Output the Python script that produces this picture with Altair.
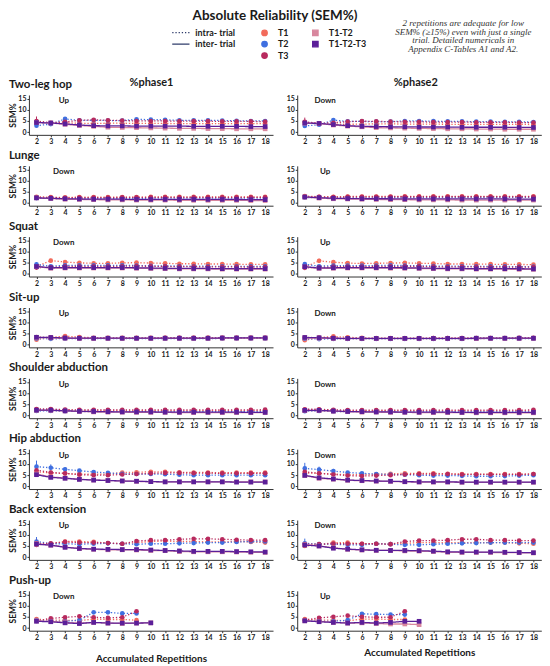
import altair as alt
import pandas as pd

# ---------------- data ----------------
REPS = list(range(2, 19))
PUSH_REPS_INTRA = list(range(2, 10))
PUSH_REPS_INTER = list(range(2, 11))

SERIES = ["T1", "T2", "T3", "T1-T2", "T1-T2-T3"]          # legend fills column by column
COLORS = ["#F26B5B", "#3F6FE0", "#B82A5E", "#D8879E", "#5B1F99"]
SHAPES = ["circle", "circle", "circle", "square", "square"]
WIDTHS = [1.3, 1.3, 1.3, 2.4, 1.7]
TRIALS = ["intra- trial", "inter- trial"]
TRIAL_OF = {"T1": "intra- trial", "T2": "intra- trial", "T3": "intra- trial",
            "T1-T2": "inter- trial", "T1-T2-T3": "inter- trial"}

EXERCISES = ["Two-leg hop", "Lunge", "Squat", "Sit-up", "Shoulder abduction",
             "Hip abduction", "Back extension", "Push-up"]
PHASES = ["%phase1", "%phase2"]
DIR_P1 = ["Up", "Down", "Down", "Up", "Up", "Up", "Up", "Down"]
DIR_P2 = ["Down", "Up", "Up", "Down", "Down", "Down", "Down", "Up"]

TITLE = "Absolute Reliability (SEM%)"
NOTE_LINES = ["2 repetitions are adequate for low",
              "SEM% (\u226515%) even with just a single",
              "trial. Detailed numericals in",
              "Appendix C-Tables A1 and A2."]
X_TITLE = "Accumulated Repetitions"
Y_TITLE = "SEM%"

hop_p1 = {
    "T1": [4.5, 4.0, 4.3, 3.9, 3.9, 4.0, 4.0, 3.9, 3.9, 3.9, 3.8, 3.8, 3.8, 3.8, 3.8, 3.8, 3.8],
    "T2": [2.9, 3.6, 5.9, 5.3, 5.3, 5.2, 5.2, 5.7, 5.6, 5.5, 5.3, 5.3, 5.3, 5.2, 5.1, 5.0, 5.0],
    "T3": [5.0, 4.2, 4.6, 5.3, 5.5, 5.3, 5.2, 5.0, 5.0, 5.0, 4.9, 4.9, 4.9, 4.8, 4.8, 4.8, 4.7],
    "T1-T2": [4.3, 4.1, 3.5, 3.0, 2.6, 2.2, 2.1, 2.0, 1.9, 1.8, 1.7, 1.7, 1.6, 1.6, 1.5, 1.5, 1.5],
    "T1-T2-T3": [4.3, 4.1, 3.7, 3.2, 2.9, 2.8, 2.8, 2.7, 2.7, 2.7, 2.7, 2.6, 2.6, 2.6, 2.6, 2.5, 2.5],
}
hop_p2 = {
    "T1": [4.4, 3.9, 3.6, 3.5, 3.6, 3.7, 3.7, 3.6, 3.6, 3.6, 3.5, 3.5, 3.5, 3.5, 3.5, 3.5, 3.4],
    "T2": [2.8, 3.3, 5.4, 4.8, 4.8, 4.7, 4.7, 5.0, 5.0, 4.9, 4.8, 4.8, 4.7, 4.7, 4.6, 4.6, 4.5],
    "T3": [4.6, 4.0, 4.2, 4.7, 4.9, 4.8, 4.7, 4.6, 4.6, 4.5, 4.5, 4.5, 4.4, 4.4, 4.4, 4.3, 4.3],
    "T1-T2": [4.0, 3.8, 3.2, 2.7, 2.4, 2.0, 1.9, 1.8, 1.7, 1.6, 1.5, 1.5, 1.4, 1.4, 1.3, 1.3, 1.3],
    "T1-T2-T3": [4.1, 3.9, 3.4, 2.9, 2.6, 2.5, 2.4, 2.4, 2.3, 2.3, 2.3, 2.2, 2.2, 2.2, 2.2, 2.1, 2.1],
}
lunge_p1 = {
    "T1": [2.8, 2.6, 2.5, 2.6, 2.6, 2.6, 2.6, 2.6, 2.7, 2.7, 2.7, 2.7, 2.7, 2.7, 2.7, 2.7, 2.7],
    "T2": [2.2, 2.0, 2.0, 2.0, 2.1, 2.1, 2.1, 2.1, 2.1, 2.2, 2.2, 2.2, 2.2, 2.2, 2.2, 2.2, 2.2],
    "T3": [2.5, 2.4, 2.3, 2.4, 2.4, 2.4, 2.5, 2.5, 2.5, 2.5, 2.5, 2.5, 2.5, 2.5, 2.5, 2.5, 2.5],
    "T1-T2": [2.3, 2.0, 1.7, 1.6, 1.5, 1.4, 1.4, 1.3, 1.3, 1.3, 1.2, 1.2, 1.2, 1.2, 1.2, 1.1, 1.1],
    "T1-T2-T3": [2.3, 2.1, 1.9, 1.8, 1.7, 1.7, 1.7, 1.6, 1.6, 1.6, 1.6, 1.6, 1.6, 1.6, 1.6, 1.5, 1.5],
}
lunge_p2 = {
    "T1": [3.1, 2.8, 2.8, 2.9, 2.9, 2.9, 2.9, 3.0, 3.0, 3.0, 3.0, 3.0, 3.0, 3.0, 3.0, 3.0, 3.0],
    "T2": [2.5, 2.3, 2.2, 2.3, 2.3, 2.3, 2.4, 2.4, 2.4, 2.4, 2.5, 2.5, 2.5, 2.5, 2.5, 2.5, 2.5],
    "T3": [2.8, 2.7, 2.6, 2.7, 2.7, 2.7, 2.8, 2.8, 2.8, 2.8, 2.8, 2.8, 2.8, 2.8, 2.8, 2.8, 2.8],
    "T1-T2": [2.6, 2.2, 1.9, 1.8, 1.7, 1.6, 1.5, 1.5, 1.4, 1.4, 1.4, 1.3, 1.3, 1.3, 1.3, 1.3, 1.3],
    "T1-T2-T3": [2.7, 2.4, 2.1, 2.0, 1.9, 1.9, 1.9, 1.8, 1.8, 1.8, 1.8, 1.8, 1.8, 1.8, 1.8, 1.7, 1.7],
}
squat_p1 = {
    "T1": [3.2, 5.9, 5.3, 4.9, 4.7, 4.7, 4.9, 5.0, 4.8, 4.7, 4.5, 4.5, 4.4, 4.4, 4.3, 4.2, 4.2],
    "T2": [4.2, 3.4, 3.8, 3.8, 3.8, 3.8, 3.8, 3.7, 3.6, 3.5, 3.5, 3.4, 3.4, 3.3, 3.3, 3.3, 3.3],
    "T3": [2.8, 2.9, 3.3, 3.3, 3.3, 3.3, 3.4, 3.5, 3.3, 3.3, 3.2, 3.2, 3.1, 3.1, 3.1, 3.0, 3.0],
    "T1-T2": [3.2, 2.5, 2.6, 2.6, 2.6, 2.6, 2.6, 2.5, 2.4, 2.3, 2.2, 2.2, 2.2, 2.1, 2.1, 2.1, 2.1],
    "T1-T2-T3": [3.3, 2.7, 2.8, 2.8, 2.8, 2.8, 2.8, 2.7, 2.6, 2.5, 2.4, 2.4, 2.4, 2.3, 2.3, 2.3, 2.3],
}
squat_p2 = {
    "T1": [3.0, 5.8, 5.2, 4.8, 4.6, 4.7, 4.8, 4.9, 4.7, 4.6, 4.4, 4.4, 4.3, 4.3, 4.2, 4.2, 4.1],
    "T2": [4.3, 3.4, 3.7, 3.7, 3.7, 3.7, 3.8, 3.7, 3.6, 3.5, 3.4, 3.4, 3.3, 3.3, 3.3, 3.2, 3.2],
    "T3": [2.7, 2.8, 3.2, 3.2, 3.2, 3.3, 3.3, 3.4, 3.3, 3.2, 3.1, 3.1, 3.1, 3.0, 3.0, 3.0, 3.0],
    "T1-T2": [3.1, 2.4, 2.5, 2.6, 2.6, 2.6, 2.5, 2.5, 2.4, 2.3, 2.2, 2.2, 2.1, 2.1, 2.1, 2.0, 2.0],
    "T1-T2-T3": [3.2, 2.6, 2.7, 2.8, 2.8, 2.8, 2.8, 2.7, 2.6, 2.5, 2.4, 2.4, 2.3, 2.3, 2.3, 2.3, 2.2],
}
situp_p1 = {
    "T1": [2.2, 3.3, 3.8, 3.4, 3.1, 3.0, 3.0, 3.0, 3.0, 3.0, 3.0, 3.0, 3.0, 3.0, 3.0, 3.0, 3.0],
    "T2": [2.8, 2.6, 2.7, 2.7, 2.7, 2.7, 2.7, 2.7, 2.7, 2.7, 2.7, 2.7, 2.7, 2.8, 2.8, 2.8, 2.8],
    "T3": [3.4, 3.2, 3.0, 2.9, 2.9, 2.9, 2.9, 2.9, 2.9, 3.0, 3.0, 3.0, 3.0, 3.0, 3.0, 3.0, 3.1],
    "T1-T2": [3.1, 3.0, 2.9, 2.8, 2.8, 2.8, 2.8, 2.8, 2.8, 2.8, 2.8, 2.8, 2.8, 2.9, 2.9, 2.9, 2.9],
    "T1-T2-T3": [3.3, 3.2, 3.0, 2.9, 2.9, 2.9, 2.9, 2.9, 2.9, 2.9, 2.9, 2.9, 2.9, 3.0, 3.0, 3.0, 3.0],
}
situp_p2 = {
    "T1": [2.0, 3.2, 3.7, 3.3, 3.0, 2.9, 2.9, 2.9, 2.9, 2.9, 2.9, 2.9, 2.9, 2.9, 2.9, 2.9, 2.9],
    "T2": [2.7, 2.5, 2.6, 2.6, 2.6, 2.6, 2.6, 2.6, 2.6, 2.6, 2.6, 2.6, 2.7, 2.7, 2.7, 2.7, 2.7],
    "T3": [3.3, 3.1, 2.9, 2.8, 2.8, 2.8, 2.8, 2.8, 2.8, 2.9, 2.9, 2.9, 2.9, 2.9, 2.9, 3.0, 3.0],
    "T1-T2": [3.0, 2.9, 2.8, 2.7, 2.7, 2.7, 2.7, 2.7, 2.7, 2.7, 2.7, 2.7, 2.7, 2.8, 2.8, 2.8, 2.8],
    "T1-T2-T3": [3.2, 3.1, 2.9, 2.8, 2.8, 2.8, 2.8, 2.8, 2.8, 2.8, 2.8, 2.8, 2.9, 2.9, 2.9, 2.9, 2.9],
}
shoulder_p1 = {
    "T1": [2.6, 2.6, 2.4, 2.3, 2.3, 2.3, 2.2, 2.2, 2.2, 2.2, 2.2, 2.2, 2.2, 2.2, 2.2, 2.2, 2.2],
    "T2": [2.0, 2.1, 1.9, 1.8, 1.7, 1.7, 1.7, 1.7, 1.7, 1.7, 1.7, 1.7, 1.7, 1.7, 1.7, 1.7, 1.7],
    "T3": [2.9, 2.9, 2.6, 2.5, 2.5, 2.5, 2.5, 2.5, 2.5, 2.5, 2.5, 2.5, 2.5, 2.5, 2.5, 2.5, 2.6],
    "T1-T2": [2.3, 2.3, 2.0, 1.8, 1.6, 1.5, 1.5, 1.4, 1.4, 1.4, 1.3, 1.3, 1.3, 1.3, 1.3, 1.3, 1.3],
    "T1-T2-T3": [2.4, 2.4, 2.1, 1.9, 1.8, 1.7, 1.6, 1.6, 1.6, 1.5, 1.5, 1.5, 1.5, 1.5, 1.5, 1.4, 1.4],
}
shoulder_p2 = {
    "T1": [2.5, 2.5, 2.3, 2.2, 2.2, 2.2, 2.2, 2.2, 2.1, 2.1, 2.1, 2.1, 2.1, 2.1, 2.1, 2.1, 2.1],
    "T2": [1.9, 2.0, 1.8, 1.7, 1.7, 1.6, 1.6, 1.6, 1.6, 1.6, 1.6, 1.6, 1.6, 1.6, 1.6, 1.6, 1.6],
    "T3": [2.8, 2.8, 2.5, 2.4, 2.4, 2.4, 2.4, 2.4, 2.4, 2.4, 2.4, 2.4, 2.4, 2.4, 2.4, 2.4, 2.5],
    "T1-T2": [2.2, 2.2, 1.9, 1.7, 1.5, 1.5, 1.4, 1.4, 1.3, 1.3, 1.3, 1.3, 1.2, 1.2, 1.2, 1.2, 1.2],
    "T1-T2-T3": [2.3, 2.3, 2.0, 1.8, 1.7, 1.6, 1.6, 1.5, 1.5, 1.5, 1.5, 1.4, 1.4, 1.4, 1.4, 1.4, 1.4],
}
hip_p1 = {
    "T1": [6.5, 6.0, 5.7, 5.5, 5.5, 5.5, 6.2, 6.3, 6.5, 6.5, 6.3, 6.2, 6.2, 6.1, 6.1, 6.1, 6.1],
    "T2": [8.8, 8.3, 7.6, 7.0, 6.4, 6.0, 5.6, 5.5, 5.5, 5.4, 5.2, 5.0, 5.0, 5.0, 5.0, 5.0, 5.0],
    "T3": [7.2, 6.2, 5.8, 5.2, 5.0, 5.0, 5.3, 5.5, 5.8, 6.0, 6.0, 5.9, 5.9, 5.8, 5.8, 5.8, 5.8],
    "T1-T2": [5.5, 4.2, 3.7, 3.2, 2.8, 2.6, 2.4, 2.2, 2.1, 2.0, 2.0, 2.0, 2.0, 2.0, 2.0, 2.0, 2.0],
    "T1-T2-T3": [5.2, 4.0, 3.6, 3.1, 2.8, 2.6, 2.4, 2.3, 2.1, 2.0, 2.0, 2.0, 2.0, 2.0, 1.9, 1.9, 1.9],
}
hip_p2 = {
    "T1": [6.0, 5.8, 5.5, 5.2, 5.2, 5.4, 5.6, 5.8, 5.8, 5.8, 5.6, 5.5, 5.5, 5.5, 5.5, 5.5, 5.5],
    "T2": [8.0, 7.5, 6.8, 6.2, 5.8, 5.5, 5.3, 5.2, 5.0, 4.8, 4.8, 4.7, 4.5, 4.5, 4.6, 4.8, 5.0],
    "T3": [6.5, 5.8, 5.3, 4.8, 4.6, 4.8, 5.0, 5.3, 5.5, 5.5, 5.5, 5.3, 5.3, 5.3, 5.3, 5.3, 5.5],
    "T1-T2": [4.8, 3.6, 3.2, 2.7, 2.5, 2.3, 2.2, 2.0, 1.9, 1.9, 1.9, 1.8, 1.8, 1.8, 1.8, 1.8, 1.8],
    "T1-T2-T3": [4.9, 3.8, 3.3, 2.8, 2.6, 2.4, 2.3, 2.1, 2.0, 2.0, 2.0, 1.9, 1.9, 1.9, 1.9, 1.9, 1.9],
}
back_p1 = {
    "T1": [5.5, 6.0, 7.0, 7.0, 6.8, 6.3, 6.0, 6.5, 7.0, 7.2, 7.0, 7.0, 6.8, 6.8, 7.0, 6.8, 6.5],
    "T2": [7.0, 6.0, 6.0, 5.8, 6.0, 6.2, 6.0, 5.8, 6.0, 6.0, 6.2, 6.3, 6.5, 6.5, 6.8, 7.0, 7.0],
    "T3": [6.2, 6.2, 6.8, 6.5, 6.5, 6.3, 6.0, 7.2, 7.6, 7.6, 8.0, 8.2, 8.2, 8.0, 7.8, 7.6, 7.6],
    "T1-T2": [6.0, 5.3, 4.5, 3.8, 3.5, 3.3, 3.3, 3.2, 3.0, 2.9, 2.5, 2.4, 2.4, 2.4, 2.3, 2.2, 2.1],
    "T1-T2-T3": [5.8, 5.4, 4.4, 3.9, 3.6, 3.5, 3.4, 3.4, 3.2, 3.0, 2.8, 2.6, 2.6, 2.6, 2.5, 2.4, 2.3],
}
back_p2 = {
    "T1": [5.0, 5.5, 6.5, 6.5, 6.0, 6.0, 5.8, 6.2, 6.5, 6.5, 6.5, 6.5, 6.5, 6.5, 6.5, 6.2, 6.0],
    "T2": [6.2, 5.8, 5.8, 5.5, 5.5, 6.0, 5.8, 5.5, 5.5, 5.8, 6.0, 6.2, 6.3, 6.5, 6.5, 6.5, 6.5],
    "T3": [5.8, 5.8, 6.0, 6.0, 6.0, 6.0, 5.8, 7.0, 7.4, 7.4, 7.6, 8.0, 8.0, 7.6, 7.6, 7.4, 7.4],
    "T1-T2": [5.6, 5.0, 4.2, 3.5, 3.2, 3.0, 3.0, 2.8, 2.7, 2.5, 2.2, 2.1, 2.1, 2.1, 2.0, 2.0, 1.9],
    "T1-T2-T3": [5.4, 5.0, 4.0, 3.6, 3.3, 3.1, 3.0, 3.0, 2.9, 2.7, 2.4, 2.3, 2.3, 2.3, 2.2, 2.1, 2.0],
}
push_p1 = {
    "T1": [4.0, 3.5, 3.5, 3.3, 4.0, 3.8, 3.8, 3.5],
    "T2": [3.5, 3.0, 3.0, 3.5, 7.0, 7.0, 6.5, 6.5],
    "T3": [3.2, 4.3, 4.8, 5.2, 4.8, 4.5, 4.8, 7.5],
    "T1-T2": [3.2, 3.0, 2.5, 2.2, 2.5, 2.2, 2.0, 2.2, 2.3],
    "T1-T2-T3": [3.0, 2.8, 2.3, 2.0, 2.5, 2.2, 2.2, 2.2, 2.3],
}
push_p2 = {
    "T1": [4.0, 3.5, 3.5, 3.2, 4.0, 4.0, 3.8, 3.8],
    "T2": [3.5, 3.0, 3.0, 3.5, 6.3, 6.2, 6.0, 6.0],
    "T3": [3.5, 4.5, 5.0, 5.5, 5.0, 4.8, 4.8, 7.5],
    "T1-T2": [3.2, 3.0, 2.5, 2.2, 2.3, 2.0, 1.8, 1.8, 1.5],
    "T1-T2-T3": [3.2, 2.8, 2.5, 2.2, 2.5, 2.2, 2.5, 3.0, 3.0],
}

PANELS = [(hop_p1, hop_p2), (lunge_p1, lunge_p2), (squat_p1, squat_p2),
          (situp_p1, situp_p2), (shoulder_p1, shoulder_p2), (hip_p1, hip_p2),
          (back_p1, back_p2), (push_p1, push_p2)]

# visible error bars: (row, column, series, repetition, low, high)
ERROR_BARS = [
    (0, 0, "T3", 2, 3.0, 7.0), (0, 1, "T3", 2, 3.0, 6.5),
    (2, 0, "T1", 3, 5.0, 6.8), (2, 0, "T2", 2, 3.2, 5.2),
    (2, 1, "T1", 3, 5.0, 6.8), (2, 1, "T2", 2, 3.3, 5.3),
    (5, 0, "T2", 2, 6.5, 11.5), (5, 0, "T2", 3, 7.0, 9.8), (5, 0, "T2", 4, 6.6, 8.6),
    (5, 0, "T3", 2, 5.5, 9.0),
    (5, 1, "T2", 2, 6.0, 10.5), (5, 1, "T2", 3, 6.6, 8.8), (5, 1, "T2", 4, 6.0, 7.8),
    (6, 0, "T2", 2, 5.0, 9.0), (6, 0, "T3", 2, 4.5, 8.0),
    (6, 1, "T2", 2, 4.5, 8.3),
]

# ---------------- styling ----------------
FONT = "Lato"
INK = "#1a1a1a"
PW, PH = 245, 40
COL_GAP, ROW_GAP = 24.3, 31.1
HEADER_H = 55
X_DOMAIN = [1.47, 18.55]
Y_DOMAIN = [-1.2, 16.6]

SERIES_LEGEND = alt.Legend(orient="none", legendX=232, legendY=19, columns=2, title=None,
                           labelFont=FONT, labelFontSize=9, labelFontWeight="bold",
                           labelColor=INK, symbolSize=30, rowPadding=1.5, clipHeight=9,
                           columnPadding=22, labelOffset=9)
TRIAL_LEGEND = alt.Legend(orient="none", legendX=143, legendY=19, title=None,
                          labelFont=FONT, labelFontSize=9, labelFontWeight="bold",
                          labelColor=INK, symbolType="stroke", symbolSize=300, clipHeight=9,
                          symbolStrokeColor="#2F3C6B", symbolStrokeWidth=1.3,
                          rowPadding=1.5, labelOffset=5)

color_enc = alt.Color("series:N", scale=alt.Scale(domain=SERIES, range=COLORS), legend=SERIES_LEGEND)
shape_enc = alt.Shape("series:N", scale=alt.Scale(domain=SERIES, range=SHAPES), legend=SERIES_LEGEND)
dash_enc = alt.StrokeDash("trial:N", scale=alt.Scale(domain=TRIALS, range=[[1.3, 1.9], [1, 0]]),
                          legend=TRIAL_LEGEND)
width_enc = alt.StrokeWidth("series:N", scale=alt.Scale(domain=SERIES, range=WIDTHS), legend=None)


def frame(values, push):
    rows = []
    for s, vals in values.items():
        if push:
            reps = PUSH_REPS_INTRA if TRIAL_OF[s] == "intra- trial" else PUSH_REPS_INTER
        else:
            reps = REPS
        for r, v in zip(reps, vals):
            rows.append({"rep": r, "sem": v, "series": s, "trial": TRIAL_OF[s]})
    return pd.DataFrame(rows)


def panel(values, direction, col, row):
    push = row == len(EXERCISES) - 1
    df = frame(values, push)
    xaxis = dict(values=REPS, format="d", labelFont=FONT, labelFontSize=7,
                 labelFontWeight="bold", labelColor=INK, tickSize=2, labelPadding=1,
                 domainColor="#333", tickColor="#333", grid=False, labelFlush=False)
    if push:
        xaxis.update(title=X_TITLE, titleFont=FONT, titleFontSize=10, titleFontWeight="bold",
                     titleColor=INK, titlePadding=13 if col == 0 else 7)
    else:
        xaxis.update(title=None)
    yaxis = dict(values=[0, 5, 10, 15], labelFont=FONT, labelFontSize=7,
                 labelFontWeight="bold", labelColor=INK, tickSize=2, labelPadding=1,
                 domainColor="#333", tickColor="#333", grid=False)
    if col == 0:
        yaxis.update(title=Y_TITLE, titleFont=FONT, titleFontSize=8.5, titleFontWeight="bold",
                     titleColor=INK, titlePadding=0)
    else:
        yaxis.update(title=None)

    xscale = alt.Scale(domain=X_DOMAIN, nice=False, zero=False)
    yscale = alt.Scale(domain=Y_DOMAIN, nice=False, zero=False)
    x = alt.X("rep:Q", scale=xscale, axis=alt.Axis(**xaxis))
    y = alt.Y("sem:Q", scale=yscale, axis=alt.Axis(**yaxis))
    base = alt.Chart(df).encode(x=x, y=y, color=color_enc)
    layers = []
    for trial in TRIALS:
        sub = base.transform_filter(alt.datum.trial == trial)
        layers.append(sub.mark_line().encode(strokeDash=dash_enc, strokeWidth=width_enc))
        if trial == TRIALS[0]:
            errs = [e for e in ERROR_BARS if e[0] == row and e[1] == col]
            if errs:
                edf = pd.DataFrame([{"rep": e[3], "lo": e[4], "hi": e[5], "series": e[2]}
                                    for e in errs])
                layers.append(alt.Chart(edf).mark_rule(strokeWidth=1).encode(
                    x=alt.X("rep:Q", scale=xscale, axis=alt.Axis(**xaxis)),
                    y=alt.Y("lo:Q", scale=yscale, axis=alt.Axis(**yaxis)),
                    y2="hi:Q", color=color_enc))
        layers.append(sub.mark_point(filled=True, size=22, opacity=1).encode(shape=shape_enc))
    ann = alt.Chart(pd.DataFrame({"label": [direction]})).mark_text(
        font=FONT, fontSize=8, fontWeight="bold", color=INK, align="center", baseline="middle"
    ).encode(x=alt.value(35 if col == 0 else 28), y=alt.value(6.5), text="label:N")
    layers.append(ann)
    ch = alt.layer(*layers).properties(width=PW, height=PH)
    if col == 0:
        ch = ch.properties(title=alt.TitleParams(EXERCISES[row], anchor="start", frame="bounds",
                                                 font=FONT, fontSize=11.5, fontWeight="bold",
                                                 color=INK, offset=4))
    return ch


panels = []
for i, (p1, p2) in enumerate(PANELS):
    panels.append(panel(p1, DIR_P1[i], 0, i))
    panels.append(panel(p2, DIR_P2[i], 1, i))
grid = alt.concat(*panels, columns=2, spacing={"row": ROW_GAP, "column": COL_GAP}, bounds="flush")

title_chart = alt.Chart(pd.DataFrame({"t": [TITLE]})).mark_text(
    font=FONT, fontSize=13.5, fontWeight="bold", color=INK, align="center", baseline="top"
).encode(x=alt.value(247), y=alt.value(0), text="t:N")
note_chart = alt.Chart(pd.DataFrame({"t": ["\n".join(NOTE_LINES)]})).mark_text(
    font="Liberation Serif", fontSize=9, fontStyle="italic", color="#333", align="center",
    baseline="middle", lineBreak="\n", lineHeight=8.8
).encode(x=alt.value(436), y=alt.value(13.7), text="t:N")
phase_left = alt.Chart(pd.DataFrame({"t": [PHASES[0]]})).mark_text(
    font=FONT, fontSize=11, fontWeight="bold", color=INK, align="center", baseline="middle"
).encode(x=alt.value(123), y=alt.value(74), text="t:N")
phase_right = alt.Chart(pd.DataFrame({"t": [PHASES[1]]})).mark_text(
    font=FONT, fontSize=11, fontWeight="bold", color=INK, align="center", baseline="middle"
).encode(x=alt.value(PW + COL_GAP + 119), y=alt.value(74), text="t:N")
header = alt.layer(title_chart, note_chart, phase_left, phase_right).properties(
    width=2 * PW + COL_GAP, height=HEADER_H)

chart = alt.vconcat(header, grid, spacing=ROW_GAP, bounds="flush").properties(
    padding=0, background="white"
).configure_view(stroke=None)

chart.save("out.html", embed_options={"renderer": "svg", "actions": False})
